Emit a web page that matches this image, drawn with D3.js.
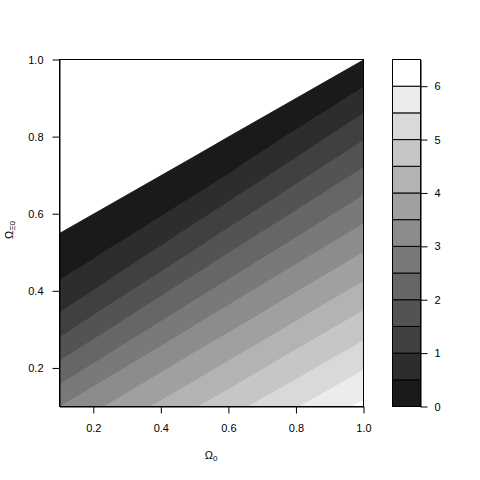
<!DOCTYPE html>
<html>
<head>
<meta charset="utf-8">
<script src="https://cdn.jsdelivr.net/npm/d3@7"></script>
<style>
  body { margin: 0; background: #fff; }
  svg { display: block; font-family: "Liberation Sans", Arial, Helvetica, sans-serif; }
</style>
</head>
<body>
<div id="chart"></div>
<script>
// grid of the surface
const omega0 = [0.1, 0.2, 0.3, 0.4, 0.5, 0.6, 0.7, 0.8, 0.9, 1.0];
const omegaXi0 = [1.0, 0.95, 0.9, 0.85, 0.8, 0.75, 0.7, 0.65, 0.6, 0.55,
                  0.5, 0.45, 0.4, 0.35, 0.3, 0.25, 0.2, 0.15, 0.1];
// one row per omegaXi0 value (top to bottom), null = no value (blank area)
const values = [
  [null, null, null, null, null, null, null, null, null, 0],
  [null, null, null, null, null, null, null, null, 0, 0.35],
  [null, null, null, null, null, null, null, 0, 0.32, 0.71],
  [null, null, null, null, null, null, 0, 0.30, 0.66, 1.08],
  [null, null, null, null, null, 0, 0.28, 0.62, 1.03, 1.44],
  [null, null, null, null, 0, 0.26, 0.57, 0.97, 1.39, 1.79],
  [null, null, null, 0, 0.24, 0.52, 0.92, 1.34, 1.75, 2.15],
  [null, null, 0, 0.23, 0.49, 0.87, 1.28, 1.70, 2.11, 2.49],
  [null, 0, 0.22, 0.46, 0.82, 1.23, 1.65, 2.07, 2.46, 2.83],
  [0, 0.21, 0.43, 0.77, 1.18, 1.61, 2.03, 2.42, 2.81, 3.17],
  [0.20, 0.41, 0.73, 1.12, 1.55, 1.99, 2.39, 2.78, 3.16, 3.51],
  [0.39, 0.68, 1.07, 1.50, 1.94, 2.35, 2.76, 3.14, 3.49, 3.84],
  [0.64, 1.01, 1.45, 1.90, 2.32, 2.73, 3.12, 3.48, 3.83, 4.17],
  [0.96, 1.40, 1.85, 2.28, 2.70, 3.10, 3.46, 3.82, 4.16, 4.50],
  [1.34, 1.80, 2.24, 2.67, 3.08, 3.45, 3.80, 4.15, 4.50, 4.82],
  [1.75, 2.20, 2.64, 3.06, 3.44, 3.79, 4.14, 4.49, 4.82, 5.14],
  [2.16, 2.60, 3.04, 3.42, 3.78, 4.13, 4.48, 4.81, 5.14, 5.47],
  [2.56, 3.02, 3.40, 3.77, 4.12, 4.47, 4.81, 5.14, 5.47, 5.79],
  [3.00, 3.39, 3.76, 4.11, 4.47, 4.81, 5.14, 5.47, 5.79, 6.11]
];

const levels = [0, 0.5, 1, 1.5, 2, 2.5, 3, 3.5, 4, 4.5, 5, 5.5, 6, 6.5];
const bandColors = ["#1a1a1a", "#2d2d2d", "#404040", "#535353", "#666666", "#797979",
                    "#8c8c8c", "#a0a0a0", "#b3b3b3", "#c6c6c6", "#d9d9d9", "#ececec", "#ffffff"];
const xTicks = [0.2, 0.4, 0.6, 0.8, 1.0];
const yTicks = [0.2, 0.4, 0.6, 0.8, 1.0];
const keyTicks = [0, 1, 2, 3, 4, 5, 6];

const width = 480;
const height = 480;

const x = d3.scaleLinear().domain([0.1, 1]).range([59.5, 363.5]);
const y = d3.scaleLinear().domain([0.1, 1]).range([406.5, 59.5]);

const svg = d3.select("#chart").append("svg")
  .attr("width", width)
  .attr("height", height);

svg.append("clipPath").attr("id", "plotclip")
  .append("rect")
  .attr("x", x(0.1)).attr("y", y(1))
  .attr("width", x(1) - x(0.1)).attr("height", y(0.1) - y(1));

// d3.contours puts sample i at i + 0.5
const nx = omega0.length, ny = omegaXi0.length;
const gx = d3.scaleLinear().domain([0.5, nx - 0.5]).range([x(omega0[0]), x(omega0[nx - 1])]);
const gy = d3.scaleLinear().domain([0.5, ny - 0.5]).range([y(omegaXi0[0]), y(omegaXi0[ny - 1])]);

// no value -> below the lowest level, so it stays blank
const grid = values.flat().map(v => v == null ? -1 : v);

const bands = d3.contours()
  .size([nx, ny])
  .thresholds(levels.slice(0, -1))(grid);

const path = d3.geoPath(d3.geoTransform({
  point(px, py) { this.stream.point(gx(px), gy(py)); }
}));

svg.append("g")
  .attr("clip-path", "url(#plotclip)")
  .selectAll("path")
  .data(bands)
  .join("path")
  .attr("d", path)
  .attr("fill", (d, i) => bandColors[i]);

// axes
const xAxis = svg.append("g")
  .attr("transform", `translate(0,${y(0.1)})`)
  .call(d3.axisBottom(x).tickValues(xTicks).tickFormat(d3.format(".1f"))
    .tickSize(7).tickPadding(11).tickSizeOuter(0));

const yAxis = svg.append("g")
  .attr("transform", `translate(${x(0.1)},0)`)
  .call(d3.axisLeft(y).tickValues(yTicks).tickFormat(d3.format(".1f"))
    .tickSize(7).tickPadding(9).tickSizeOuter(0));

svg.append("rect")
  .attr("x", x(0.1)).attr("y", y(1))
  .attr("width", x(1) - x(0.1)).attr("height", y(0.1) - y(1))
  .attr("fill", "none").attr("stroke", "#000");

// key
const k = d3.scaleLinear()
  .domain([levels[0], levels[levels.length - 1]])
  .range([406.5, 59.5]);

svg.append("g")
  .selectAll("rect")
  .data(bandColors)
  .join("rect")
  .attr("x", 392.5)
  .attr("width", 28)
  .attr("y", (d, i) => k(levels[i + 1]))
  .attr("height", (d, i) => k(levels[i]) - k(levels[i + 1]))
  .attr("fill", d => d)
  .attr("stroke", "#000");

const keyAxis = svg.append("g")
  .attr("transform", "translate(420.5,0)")
  .call(d3.axisRight(k).tickValues(keyTicks).tickFormat(d3.format("d"))
    .tickSize(7).tickPadding(7).tickSizeOuter(0));

[xAxis, yAxis, keyAxis].forEach(g => {
  g.attr("font-size", 11).attr("font-family", null);
  g.selectAll("text").attr("fill", "#000");
});

// axis titles
svg.append("text")
  .attr("x", 211).attr("y", 459)
  .attr("text-anchor", "middle")
  .attr("font-size", 11)
  .text("Ω")
  .append("tspan").attr("font-size", 8).attr("dy", 2).text("0");

svg.append("text")
  .attr("transform", "translate(12.5,230) rotate(-90)")
  .attr("text-anchor", "middle")
  .attr("font-size", 11)
  .text("Ω")
  .append("tspan").attr("font-size", 8).attr("dy", 2).text("Ξ0");
</script>
</body>
</html>
